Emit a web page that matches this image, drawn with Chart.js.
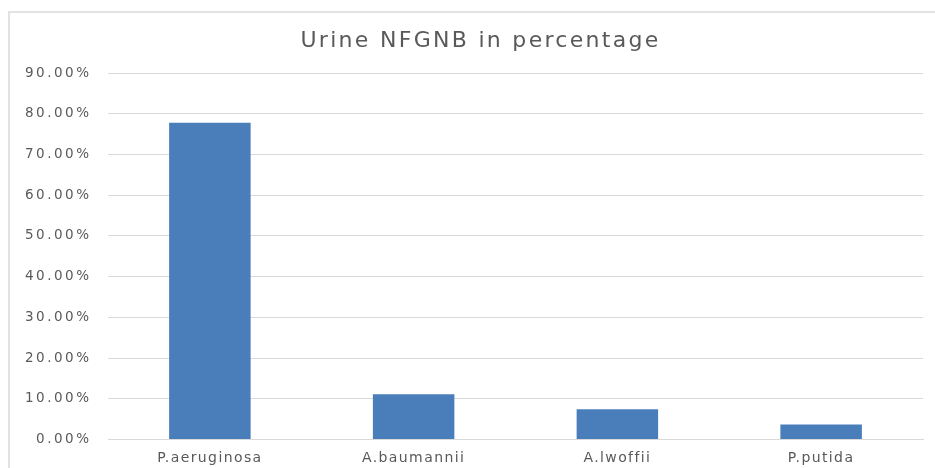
<!DOCTYPE html>
<html>
<head>
<meta charset="utf-8">
<script src="https://cdn.jsdelivr.net/npm/chart.js@4/dist/chart.umd.min.js"></script>
<style>
  html, body { margin: 0; padding: 0; background: #ffffff; }
  #wrap { width: 935px; height: 468px; position: relative; }
</style>
</head>
<body>
<div id="wrap"><canvas id="chart" width="935" height="468"></canvas></div>
<script>
const chartTitle = 'Urine NFGNB in percentage';
const categories = ['P.aeruginosa', 'A.baumannii', 'A.lwoffii', 'P.putida'];
const percentages = [77.78, 11.11, 7.41, 3.70];
const yMin = 0;
const yMax = 90;
const yStep = 10;

const FONT = 'DejaVu Sans';
const TEXT = '#595959';
const GRID = '#d9d9d9';

const spacingPlugin = {
  id: 'spacing',
  afterLayout(chart) {
    const ctx = chart.ctx;
    const wrap = (obj, method, sp, dx) => {
      if (!obj || obj['_wrapped_' + method]) return;
      const orig = obj[method];
      obj[method] = function (...args) {
        ctx.save();
        ctx.letterSpacing = sp;
        if (dx) ctx.translate(dx, 0);
        const r = orig.apply(this, args);
        ctx.restore();
        return r;
      };
      obj['_wrapped_' + method] = true;
    };
    wrap(chart.scales.y, 'drawLabels', '2.5px', 0);
    wrap(chart.scales.x, 'drawLabels', '1.4px', 0);
    wrap(chart.titleBlock, 'draw', '2.3px', 11);
  },
  beforeDraw(chart) {
    const ctx = chart.ctx;
    ctx.save();
    ctx.strokeStyle = '#e2e2e2';
    ctx.lineWidth = 2;
    ctx.beginPath();
    ctx.moveTo(9, 468);
    ctx.lineTo(9, 12);
    ctx.lineTo(935, 12);
    ctx.stroke();
    ctx.restore();
  }
};

new Chart(document.getElementById('chart'), {
  type: 'bar',
  data: {
    labels: categories,
    datasets: [{
      data: percentages,
      backgroundColor: '#4a7ebb',
      borderWidth: 0,
      barPercentage: 1,
      categoryPercentage: 0.4
    }]
  },
  options: {
    responsive: false,
    animation: false,
    layout: { padding: { left: 16, right: 12, top: 0, bottom: 0 } },
    plugins: {
      legend: { display: false },
      tooltip: { enabled: false },
      title: {
        display: true,
        text: chartTitle,
        color: TEXT,
        font: { family: FONT, size: 22, weight: 'normal', lineHeight: 1.2 },
        padding: { top: 27.8, bottom: 18.8 }
      }
    },
    scales: {
      x: {
        grid: { display: false, drawTicks: false },
        border: { display: true, color: GRID, width: 1 },
        ticks: { color: TEXT, font: { family: FONT, size: 14 }, padding: 10, maxRotation: 0, autoSkip: false },
        afterFit(s) { s.height = 28.5; }
      },
      y: {
        min: yMin,
        max: yMax,
        ticks: {
          stepSize: yStep,
          color: TEXT,
          font: { family: FONT, size: 13.5 },
          padding: 16.5,
          callback: v => Number(v).toFixed(2) + '%'
        },
        grid: { color: GRID, lineWidth: 1, drawTicks: false },
        border: { display: false },
        afterFit(s) { s.width = 92; }
      }
    }
  },
  plugins: [spacingPlugin]
});
</script>
</body>
</html>
